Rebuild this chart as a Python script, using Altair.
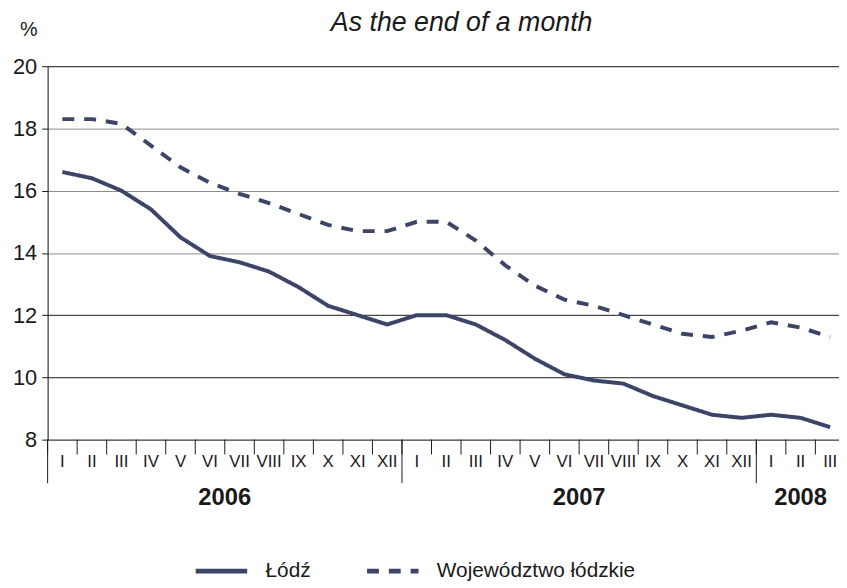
import altair as alt
import pandas as pd

# ---- data ----
months = ["I", "II", "III", "IV", "V", "VI", "VII", "VIII", "IX", "X", "XI", "XII",
          "I", "II", "III", "IV", "V", "VI", "VII", "VIII", "IX", "X", "XI", "XII",
          "I", "II", "III"]
years = ["2006", "2007", "2008"]
year_first_month = [0, 12, 24]
year_month_count = [12, 12, 3]
lodz = [16.6, 16.4, 16.0, 15.4, 14.5, 13.9, 13.7, 13.4, 12.9, 12.3, 12.0, 11.7,
        12.0, 12.0, 11.7, 11.2, 10.6, 10.1, 9.9, 9.8, 9.4, 9.1, 8.8, 8.7,
        8.8, 8.7, 8.4]
woj = [18.3, 18.3, 18.15, 17.45, 16.75, 16.25, 15.9, 15.6, 15.25, 14.9, 14.7, 14.7,
       15.0, 15.0, 14.4, 13.6, 12.95, 12.5, 12.3, 12.0, 11.7, 11.4, 11.3, 11.5,
       11.77, 11.6, 11.3]
series_names = ["Łódź", "Województwo łódzkie"]
y_ticks = [8, 10, 12, 14, 16, 18, 20]
title_text = "As the end of a month"
unit_text = "%"

# ---- styling ----
W, H = 799, 377
LINE = "#3c4567"
INK = "#1a1a1a"
FONT = "Liberation Sans"

n = len(months)
pos = [i + 0.5 for i in range(n)]
df = pd.DataFrame({
    "pos": pos + pos,
    "value": lodz + woj,
    "series": [series_names[0]] * n + [series_names[1]] * n,
})
month_df = pd.DataFrame({"pos": pos, "month": months})
bound_df = pd.DataFrame({"b": list(range(n))})
year_df = pd.DataFrame({
    "year": years,
    "start": year_first_month,
    "mid": [s + c / 2 for s, c in zip(year_first_month, year_month_count)],
})
title_df = pd.DataFrame({"t": [title_text]})
unit_df = pd.DataFrame({"t": [unit_text]})

xscale = alt.Scale(domain=[0, 26.8], nice=False, zero=False)
yscale = alt.Scale(domain=[8, 20], nice=False, zero=False)

lines = alt.Chart(df).mark_line(strokeWidth=4, color=LINE, clip=True).encode(
    x=alt.X("pos:Q", scale=xscale,
            axis=alt.Axis(values=list(range(n)), ticks=False, labels=False, grid=False,
                          domainColor=INK, title=None)),
    y=alt.Y("value:Q", scale=yscale,
            axis=alt.Axis(values=y_ticks, tickSize=6, labelPadding=5, labelFontSize=22,
                          labelColor=INK, labelFont=FONT, domainColor=INK, tickColor=INK,
                          title=None, grid=True,
                          gridColor={"condition": {"test": "datum.value >= 14 && datum.value <= 18",
                                                   "value": "#8a8a8a"},
                                     "value": INK},
                          gridWidth=1)),
    strokeDash=alt.StrokeDash(
        "series:N",
        scale=alt.Scale(domain=series_names, range=[[1, 0], [12, 10]]),
        legend=alt.Legend(orient="none", legendX=147, legendY=481, direction="horizontal",
                          title=None, symbolType="stroke", symbolSize=2704,
                          symbolStrokeWidth=5, symbolStrokeColor=LINE,
                          labelFontSize=21, labelFont=FONT, labelColor=INK, labelLimit=400,
                          labelOffset=16, columnPadding=46, padding=0),
    ),
    order="pos:Q",
)

month_ticks = alt.Chart(bound_df).mark_rule(color=INK, strokeWidth=1).encode(
    x=alt.X("b:Q", scale=xscale, axis=None),
    y=alt.value(H),
    y2=alt.value(H + 15),
)

month_labels = alt.Chart(month_df).mark_text(
    fontSize=17, font=FONT, color=INK, baseline="middle", align="center"
).encode(
    x=alt.X("pos:Q", scale=xscale, axis=None),
    y=alt.value(H + 23),
    text="month:N",
)

year_rules = alt.Chart(year_df).mark_rule(color=INK, strokeWidth=1).encode(
    x=alt.X("start:Q", scale=xscale, axis=None),
    y=alt.value(H),
    y2=alt.value(H + 44),
)

year_labels = alt.Chart(year_df).mark_text(
    fontSize=24, font=FONT, fontWeight="bold", color=INK, baseline="middle", align="center"
).encode(
    x=alt.X("mid:Q", scale=xscale, axis=None),
    y=alt.value(H + 59),
    text="year:N",
)

title = alt.Chart(title_df).mark_text(
    fontSize=27, font=FONT, fontStyle="italic", color=INK, align="center", baseline="alphabetic"
).encode(x=alt.value(418), y=alt.value(-36), text="t:N")

unit = alt.Chart(unit_df).mark_text(
    fontSize=20, font=FONT, color=INK, align="right", baseline="alphabetic"
).encode(x=alt.value(-10), y=alt.value(-31), text="t:N")

chart = alt.layer(lines, month_ticks, month_labels, year_rules, year_labels, title, unit).properties(
    width=W, height=H,
    autosize=alt.AutoSizeParams(type="none"),
    padding={"left": 40, "top": 56, "right": 0, "bottom": 145},
).configure_view(stroke=None).configure(font=FONT)

chart.save("out.html", embed_options={"renderer": "svg", "actions": False})
